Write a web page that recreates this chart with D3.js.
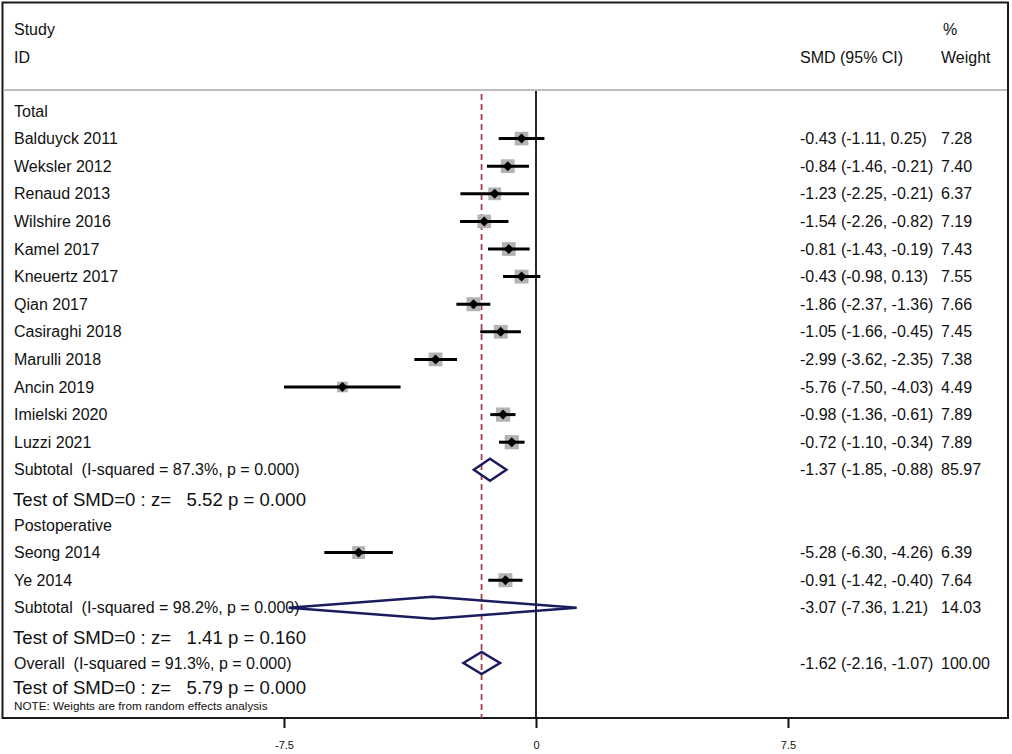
<!DOCTYPE html>
<html>
<head>
<meta charset="utf-8">
<script src="https://cdn.jsdelivr.net/npm/d3@7"></script>
<style>
  body { margin: 0; background: #fff; }
  svg text { font-family: "Liberation Sans", Arial, sans-serif; fill: #111; white-space: pre; }
</style>
</head>
<body>
<svg id="chart" width="1012" height="754"></svg>
<script>
// study level data
const studyNames = ['Balduyck 2011', 'Weksler 2012', 'Renaud 2013', 'Wilshire 2016', 'Kamel 2017',
  'Kneuertz 2017', 'Qian 2017', 'Casiraghi 2018', 'Marulli 2018', 'Ancin 2019', 'Imielski 2020',
  'Luzzi 2021', 'Seong 2014', 'Ye 2014']
const studyGroup = ['Total', 'Total', 'Total', 'Total', 'Total', 'Total', 'Total', 'Total', 'Total',
  'Total', 'Total', 'Total', 'Postoperative', 'Postoperative']
const smd = [-0.43, -0.84, -1.23, -1.54, -0.81, -0.43, -1.86, -1.05, -2.99, -5.76, -0.98, -0.72, -5.28, -0.91]
const ciLow = [-1.11, -1.46, -2.25, -2.26, -1.43, -0.98, -2.37, -1.66, -3.62, -7.50, -1.36, -1.10, -6.30, -1.42]
const ciHigh = [0.25, -0.21, -0.21, -0.82, -0.19, 0.13, -1.36, -0.45, -2.35, -4.03, -0.61, -0.34, -4.26, -0.40]
const weights = [7.28, 7.40, 6.37, 7.19, 7.43, 7.55, 7.66, 7.45, 7.38, 4.49, 7.89, 7.89, 6.39, 7.64]

// subgroup pooled results
const groups = ['Total', 'Postoperative']
const subSmd = [-1.37, -3.07]
const subLow = [-1.85, -7.36]
const subHigh = [-0.88, 1.21]
const subWeight = [85.97, 14.03]
const subI2 = [87.3, 98.2]
const subP = ['0.000', '0.000']
const subZ = ['5.52', '1.41']
const subPz = ['0.000', '0.160']

// overall pooled result
const overallEst = [-1.62, -2.16, -1.07]
const overallWeight = 100
const overallI2 = 91.3
const overallP = '0.000'
const overallZ = '5.79'
const overallPz = '0.000'

const xTicks = [-7.5, 0, 7.5]
const note = 'NOTE: Weights are from random effects analysis'

const fmt = v => v.toFixed(2)
const ciText = (e, l, h) => `${fmt(e)} (${fmt(l)}, ${fmt(h)})`

const style = {
  frame: { l: 2.5, t: 2.5, r: 1008, b: 718 },
  sepY: 90,
  row0: 111, rowH: 27.6,
  labelX: 14, smdX: 800, wX: 941,
  font: 16, testFont: 18.6, noteFont: 11.7,
  navy: '#1b1b5e', red: '#a8404c', box: '#b3b3b3'
}

// build the row list
let rows = []
groups.forEach((g, gi) => {
  rows.push({ kind: 'head', label: g })
  studyNames.forEach((n, i) => {
    if (studyGroup[i] === g) {
      rows.push({ kind: 'study', label: n, est: smd[i], lo: ciLow[i], hi: ciHigh[i], w: weights[i] })
    }
  })
  rows.push({ kind: 'sub', label: `Subtotal  (I-squared = ${subI2[gi]}%, p = ${subP[gi]})`,
    est: subSmd[gi], lo: subLow[gi], hi: subHigh[gi], w: subWeight[gi] })
  rows.push({ kind: 'test', label: `Test of SMD=0 : z=   ${subZ[gi]} p = ${subPz[gi]}` })
})
rows.push({ kind: 'sub', label: `Overall  (I-squared = ${overallI2}%, p = ${overallP})`,
  est: overallEst[0], lo: overallEst[1], hi: overallEst[2], w: overallWeight })
rows.push({ kind: 'test', label: `Test of SMD=0 : z=   ${overallZ} p = ${overallPz}`, tight: true })
rows.push({ kind: 'note', label: note })

// y position per row (last two rows are packed tighter)
let yPos = []
rows.forEach((r, i) => {
  let y = style.row0 + i * style.rowH
  if (r.kind === 'test') y += 2
  if (r.tight) y = yPos[i - 1] + 24
  if (r.kind === 'note') y = yPos[i - 1] + 19
  yPos.push(y)
})

const x = d3.scaleLinear().domain([-7.5, 7.5]).range([284, 788])
const boxSide = d3.scaleSqrt().domain([0, 7.66]).range([0, 14])

const svg = d3.select('#chart')

// frame
svg.append('rect')
  .attr('x', style.frame.l).attr('y', style.frame.t)
  .attr('width', style.frame.r - style.frame.l)
  .attr('height', style.frame.b - style.frame.t)
  .attr('fill', 'none').attr('stroke', '#1a1a1a').attr('stroke-width', 2)

svg.append('line')
  .attr('x1', style.frame.l + 1).attr('x2', style.frame.r - 1)
  .attr('y1', style.sepY).attr('y2', style.sepY)
  .attr('stroke', '#bdbdbd').attr('stroke-width', 2)

// header
const header = svg.append('g').attr('font-size', style.font)
header.append('text').attr('x', style.labelX).attr('y', 29).attr('dy', '0.35em').text('Study')
header.append('text').attr('x', style.labelX).attr('y', 57).attr('dy', '0.35em').text('ID')
header.append('text').attr('x', style.smdX).attr('y', 57).attr('dy', '0.35em').text('SMD (95% CI)')
header.append('text').attr('x', style.wX + 2).attr('y', 29).attr('dy', '0.35em').text('%')
header.append('text').attr('x', style.wX).attr('y', 57).attr('dy', '0.35em').text('Weight')

// reference lines
svg.append('line')
  .attr('x1', x(0)).attr('x2', x(0))
  .attr('y1', style.sepY + 1).attr('y2', style.frame.b)
  .attr('stroke', '#111').attr('stroke-width', 1.8)

svg.append('line')
  .attr('x1', x(overallEst[0])).attr('x2', x(overallEst[0]))
  .attr('y1', style.sepY + 4).attr('y2', style.frame.b)
  .attr('stroke', style.red).attr('stroke-width', 1.8)
  .attr('stroke-dasharray', '6,4')

// labels
const rowG = svg.append('g').selectAll('g')
  .data(rows)
  .join('g')
  .attr('transform', (d, i) => `translate(0,${yPos[i]})`)

rowG.append('text')
  .attr('x', d => d.kind === 'test' ? style.labelX - 1 : style.labelX)
  .attr('dy', '0.35em')
  .attr('font-size', d => d.kind === 'test' ? style.testFont : d.kind === 'note' ? style.noteFont : style.font)
  .text(d => d.label)

rowG.filter(d => d.est !== undefined).append('text')
  .attr('x', style.smdX).attr('dy', '0.35em').attr('font-size', style.font)
  .text(d => ciText(d.est, d.lo, d.hi))

rowG.filter(d => d.est !== undefined).append('text')
  .attr('x', style.wX).attr('dy', '0.35em').attr('font-size', style.font)
  .text(d => fmt(d.w))

// studies: box, CI line, point marker
const studyG = rowG.filter(d => d.kind === 'study')
studyG.append('rect')
  .attr('x', d => x(d.est) - boxSide(d.w) / 2)
  .attr('y', d => -boxSide(d.w) / 2)
  .attr('width', d => boxSide(d.w))
  .attr('height', d => boxSide(d.w))
  .attr('fill', style.box)

studyG.append('line')
  .attr('x1', d => x(d.lo)).attr('x2', d => x(d.hi))
  .attr('stroke', '#000').attr('stroke-width', 3)

studyG.append('path')
  .attr('d', d => `M${x(d.est) - 5},0L${x(d.est)},-5L${x(d.est) + 5},0L${x(d.est)},5Z`)
  .attr('fill', '#000')

// pooled diamonds
rowG.filter(d => d.kind === 'sub').append('path')
  .attr('d', d => `M${x(d.lo)},0L${x(d.est)},-11L${x(d.hi)},0L${x(d.est)},11Z`)
  .attr('fill', 'none')
  .attr('stroke', style.navy).attr('stroke-width', 2.5)
  .attr('stroke-linejoin', 'miter')

// axis
const axisG = svg.append('g')
  .attr('transform', `translate(0,${style.frame.b})`)
  .call(d3.axisBottom(x).tickValues(xTicks).tickSize(10).tickPadding(13).tickFormat(d => String(d)))
axisG.select('.domain').remove()
axisG.selectAll('.tick line').attr('stroke', '#111').attr('stroke-width', 2)
axisG.selectAll('.tick text')
  .attr('font-size', 11)
  .attr('font-family', '"Liberation Sans", Arial, sans-serif')
  .attr('fill', '#111')
</script>
</body>
</html>
